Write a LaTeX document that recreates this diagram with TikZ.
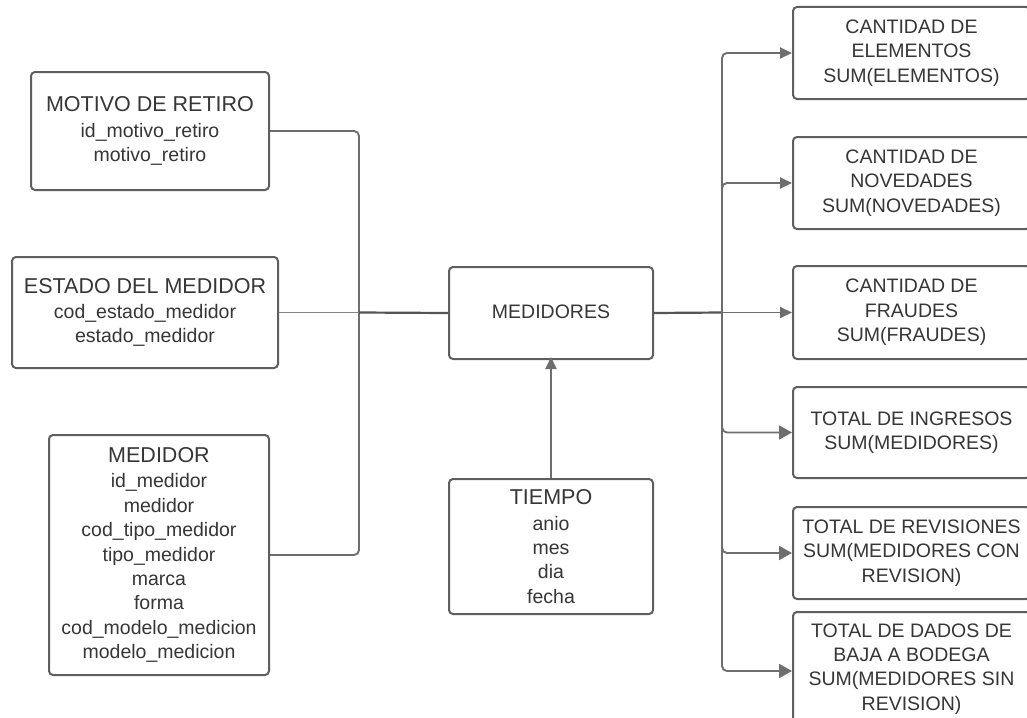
\documentclass[tikz,border=0pt]{standalone}
\usepackage{fontspec}
\setmainfont{Liberation Sans}
\usetikzlibrary{arrows.meta}
\definecolor{linec}{HTML}{6E6E6E}
\definecolor{darkline}{HTML}{555555}
\definecolor{boxc}{HTML}{5E5E5E}
\definecolor{txtc}{HTML}{363636}
\newcommand\myattrfont{\fontsize{19.5}{24.4}\selectfont}
\newcommand\mytitlefont{\fontsize{21.5}{26}\selectfont}
\begin{document}
\begin{tikzpicture}[x=1pt,y=-1pt,
  box/.style={draw=boxc, line width=2pt, rounded corners=4pt, fill=white,
    align=center, text=txtc, inner sep=0pt, font=\myattrfont},
  conn/.style={draw=linec, line width=1.9pt, rounded corners=5pt},
  arr/.style={conn, -{Triangle[length=12pt,width=11pt]}},
  arrb/.style={conn, -{Triangle[length=13pt,width=14pt]}}]
\useasboundingbox (0,0) rectangle (1027,717);
\clip (0,0) rectangle (1027,717);
\fill[white] (0,0) rectangle (1027,717);

% left dimension boxes
\node[box, minimum width=238pt, minimum height=118pt] (motivo) at (150,131)
  {{\mytitlefont MOTIVO DE RETIRO}\\[1pt] id\_motivo\_retiro\\ motivo\_retiro};
\node[box, minimum width=266pt, minimum height=111pt] (estado) at (145,312.5)
  {{\mytitlefont ESTADO DEL MEDIDOR}\\[1pt] cod\_estado\_medidor\\ estado\_medidor};
\node[box, minimum width=220pt, minimum height=240pt] (medidor) at (159,555)
  {{\mytitlefont MEDIDOR}\\[1pt] id\_medidor\\ medidor\\ cod\_tipo\_medidor\\ tipo\_medidor\\ marca\\ forma\\ cod\_modelo\_medicion\\ modelo\_medicion};

% fact and time
\node[box, minimum width=204pt, minimum height=92pt] (medidores) at (551,313)
  {\raisebox{2pt}{MEDIDORES}};
\node[box, minimum width=204pt, minimum height=135pt] (tiempo) at (551,546.5)
  {{\mytitlefont TIEMPO}\\[1pt] anio\\ mes\\ dia\\ fecha};

% measure boxes
\begin{scope}[every node/.append style={font=\fontsize{19.5}{25.8}\selectfont}]
\node[box, minimum width=237pt, minimum height=92pt] (r1) at (911.5,53)
  {CANTIDAD DE\\ ELEMENTOS\\ SUM(ELEMENTOS)};
\node[box, minimum width=237pt, minimum height=92pt] (r2) at (911.5,183)
  {CANTIDAD DE\\ NOVEDADES\\ SUM(NOVEDADES)};
\node[box, minimum width=237pt, minimum height=93pt] (r3) at (911.5,312.5)
  {CANTIDAD DE\\ FRAUDES\\ SUM(FRAUDES)};
\node[box, minimum width=237pt, minimum height=91pt] (r4) at (911.5,432.5)
  {TOTAL DE INGRESOS\\ SUM(MEDIDORES)};
\node[box, minimum width=237pt, minimum height=92pt] (r5) at (911.5,553)
  {TOTAL DE REVISIONES\\ SUM(MEDIDORES CON\\ REVISION)};
\node[box, minimum width=237pt, minimum height=114pt] (r6) at (911.5,669)
  {TOTAL DE DADOS DE\\ BAJA A BODEGA\\ SUM(MEDIDORES SIN\\ REVISION)};
\end{scope}

% left junction
\coordinate (jl) at (359,312.5);
\draw[conn] (motivo.east) -| (jl);
\draw[conn] (medidor.east) -| (jl);
\draw[conn, draw=linec!85] (estado.east) -- (jl);
\draw[conn, draw=darkline, line width=2.2pt] (jl) -- (medidores.west);

% time to fact
\draw[arr, shorten >=-3pt] (tiempo.north) -- (medidores.south);

% right bus
\coordinate (jr) at (722,312.5);
\draw[conn, draw=darkline, line width=2.2pt] (medidores.east) -- (jr);
\draw[arr] (jr) |- (r1.west);
\draw[arr] (jr) |- (r2.west);
\draw[arr] (jr) -- (r3.west);
\draw[arrb] (jr) |- (r4.west);
\draw[arrb] (jr) |- (r5.west);
\draw[arrb] (jr) |- ([yshift=-2pt]r6.west);
\end{tikzpicture}
\end{document}
